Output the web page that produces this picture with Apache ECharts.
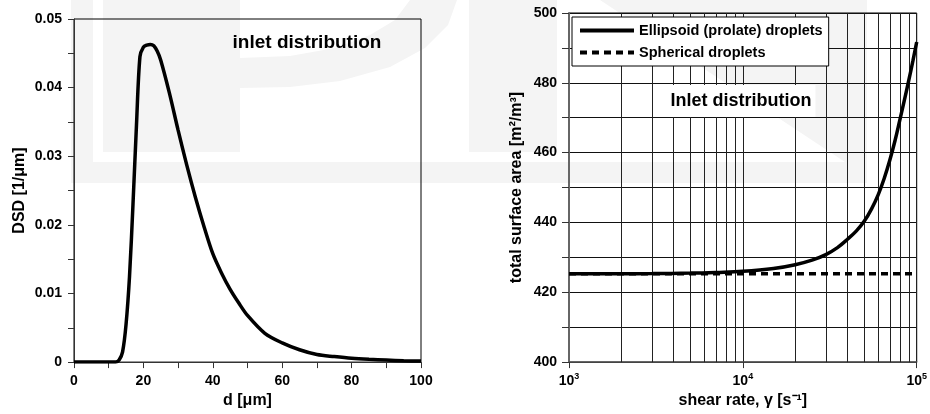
<!DOCTYPE html>
<html><head><meta charset="utf-8">
<script src="https://cdn.jsdelivr.net/npm/echarts@6/dist/echarts.min.js"></script>
<style>html,body{margin:0;padding:0;background:#fff}#c{width:930px;height:414px}</style>
</head><body><div id="c"></div>
<script>
// ---- Left panel: inlet droplet size distribution ----
const dsdDiameter = [0, 5, 10, 12, 13, 14, 15, 16, 17, 18, 19, 20, 21, 22, 23, 24, 25, 27.5, 30, 32.5, 35, 37.5, 40, 42.5, 45, 47.5, 50, 55, 60, 65, 70, 75, 80, 85, 90, 95, 100];
const dsdValue = [0, 0, 0, 0, 0.0003, 0.0015, 0.0055, 0.0125, 0.023, 0.0345, 0.0445, 0.0459, 0.0462, 0.0463, 0.0461, 0.0453, 0.0440, 0.0392, 0.0338, 0.0287, 0.0240, 0.0197, 0.0158, 0.0130, 0.0106, 0.0086, 0.0068, 0.0042, 0.0028, 0.0018, 0.0011, 0.0008, 0.00055, 0.0004, 0.0003, 0.0002, 0.00015];

// ---- Right panel: total surface area vs shear rate ----
const shearRate = [1000, 2000, 3000, 5000, 7000, 10000, 15000, 20000, 25000, 30000, 35000, 40000, 45000, 50000, 55000, 60000, 65000, 70000, 75000, 80000, 85000, 90000, 95000, 100000];
const ellipsoidArea = [425.3, 425.3, 425.35, 425.5, 425.7, 426.0, 426.8, 427.9, 429.2, 430.8, 432.8, 435.2, 437.6, 440.4, 443.9, 447.9, 452.6, 457.8, 463.4, 469.4, 475.1, 480.7, 486.2, 491.7];
const sphericalArea = [425.3, 425.3, 425.3, 425.3, 425.3, 425.3, 425.3, 425.3, 425.3, 425.3, 425.3, 425.3, 425.3, 425.3, 425.3, 425.3, 425.3, 425.3, 425.3, 425.3, 425.3, 425.3, 425.3, 425.3];
const logGridRates = [2000, 3000, 4000, 5000, 6000, 7000, 8000, 9000, 20000, 30000, 40000, 50000, 60000, 70000, 80000, 90000];
const seriesNames = ['Ellipsoid (prolate) droplets', 'Spherical droplets'];

const FONT = '"Liberation Sans", Arial, Helvetica, sans-serif';
const WM = '#f4f4f4';
const chart = echarts.init(document.getElementById('c'));

const labelStyle = { color: '#000', fontWeight: 'bold', fontSize: 14, fontFamily: FONT };
const nameStyle = { color: '#000', fontWeight: 'bold', fontSize: 16, fontFamily: FONT };

const option = {
  animation: false,
  textStyle: { fontFamily: FONT },
  graphic: [
    { type: 'rect', z: -10, silent: true, shape: { x: 71, y: 0, width: 22, height: 183 }, style: { fill: WM } },
    { type: 'rect', z: -10, silent: true, shape: { x: 103, y: 0, width: 137, height: 152 }, style: { fill: WM } },
    { type: 'polygon', z: -10, silent: true, shape: { points: [[240, 58], [290, 56], [335, 48], [370, 35], [395, 20], [410, 0], [457, 0], [448, 25], [425, 48], [390, 67], [340, 81], [290, 87], [240, 88]] }, style: { fill: WM } },
    { type: 'rect', z: -10, silent: true, shape: { x: 71, y: 162, width: 796, height: 21 }, style: { fill: WM } },
    { type: 'rect', z: -10, silent: true, shape: { x: 469, y: 0, width: 88, height: 152 }, style: { fill: WM } },
    { type: 'polygon', z: -10, silent: true, shape: { points: [[600, 0], [867, 0], [867, 162], [845, 162]] }, style: { fill: WM } },
    { type: 'text', z: 10, silent: true, style: { text: 'inlet distribution', x: 307, y: 43, align: 'center', verticalAlign: 'middle', font: 'bold 19px ' + FONT, fill: '#000' } },
    { type: 'text', z: 10, silent: true, style: { text: 'Inlet distribution', x: 741, y: 101, align: 'center', verticalAlign: 'middle', font: 'bold 18px ' + FONT, fill: '#000', backgroundColor: '#fff', padding: [7, 4, 7, 4] } }
  ],
  legend: {
    data: seriesNames,
    orient: 'vertical',
    left: 572, top: 17,
    width: 256,
    padding: [6, 6, 6, 6],
    itemGap: 7,
    itemWidth: 54, itemHeight: 14,
    backgroundColor: '#fff',
    borderColor: '#000', borderWidth: 1, borderRadius: 0,
    itemStyle: { color: 'transparent', borderColor: 'transparent', borderWidth: 0, opacity: 0 },
    lineStyle: { width: 4, color: '#000' },
    textStyle: { color: '#000', fontWeight: 'bold', fontSize: 14.5, fontFamily: FONT },
    z: 20
  },
  grid: [
    { left: 74, top: 19, width: 347, height: 345, show: true, borderColor: '#000', borderWidth: 1, backgroundColor: 'transparent' },
    { left: 569, top: 13, width: 349, height: 350, show: true, borderColor: '#000', borderWidth: 1, backgroundColor: 'transparent' }
  ],
  xAxis: [
    {
      gridIndex: 0, type: 'value', min: 0, max: 100, interval: 20,
      axisLine: { lineStyle: { color: '#333', width: 1 } },
      axisTick: { length: 6, lineStyle: { color: '#333' } },
      minorTick: { show: true, splitNumber: 2, length: 6, lineStyle: { color: '#333' } },
      splitLine: { show: false },
      axisLabel: Object.assign({ margin: 12 }, labelStyle),
      name: 'd [μm]', nameLocation: 'middle', nameGap: 30, nameTextStyle: nameStyle
    },
    {
      gridIndex: 1, type: 'log', logBase: 10, min: 1000, max: 100000,
      axisLine: { lineStyle: { color: '#555', width: 1.5 } },
      axisTick: { length: 6, lineStyle: { color: '#333' } },
      splitLine: { show: true, lineStyle: { color: '#222', width: 1 } },
      axisLabel: {
        margin: 10,
        formatter: function (v) { return '{b|10}{s|' + Math.round(Math.log10(v)) + '}'; },
        rich: {
          b: { fontSize: 14, fontWeight: 'bold', color: '#000', fontFamily: FONT, lineHeight: 18 },
          s: { fontSize: 9, fontWeight: 'bold', color: '#000', fontFamily: FONT, lineHeight: 18, verticalAlign: 'top', padding: [0, 0, 6, 0] }
        }
      },
      name: 'shear rate, γ [s⁻¹]', nameLocation: 'middle', nameGap: 28, nameTextStyle: nameStyle
    }
  ],
  yAxis: [
    {
      gridIndex: 0, type: 'value', min: 0, max: 0.05, interval: 0.01,
      axisLine: { show: true, lineStyle: { color: '#333', width: 1 } },
      axisTick: { show: true, length: 6, lineStyle: { color: '#333' } },
      minorTick: { show: true, splitNumber: 2, length: 6, lineStyle: { color: '#333' } },
      splitLine: { show: false },
      axisLabel: Object.assign({ margin: 12, formatter: function (v) { return v === 0 ? '0' : String(+v.toFixed(2)); } }, labelStyle),
      name: 'DSD [1/μm]', nameLocation: 'middle', nameGap: 46, nameTextStyle: nameStyle
    },
    {
      gridIndex: 1, type: 'value', min: 400, max: 500, interval: 10,
      axisLine: { show: true, lineStyle: { color: '#666', width: 2 } },
      axisTick: { show: true, length: 7, lineStyle: { color: '#333' } },
      splitLine: { show: true, lineStyle: { color: '#111', width: 1 } },
      axisLabel: Object.assign({ margin: 12, formatter: function (v) { return v % 20 === 0 ? String(v) : ''; } }, labelStyle),
      name: 'total surface area [m²/m³]', nameLocation: 'middle', nameGap: 44, nameTextStyle: nameStyle
    }
  ],
  series: [
    {
      type: 'line', xAxisIndex: 0, yAxisIndex: 0, symbol: 'none', smooth: 0.3,
      data: dsdDiameter.map(function (d, i) { return [d, dsdValue[i]]; }),
      lineStyle: { color: '#000', width: 3.5 }, z: 3
    },
    {
      type: 'line', xAxisIndex: 1, yAxisIndex: 1, symbol: 'none', data: [],
      markLine: {
        silent: true, z: 1, symbol: ['none', 'none'], label: { show: false },
        lineStyle: { color: '#222', width: 1, type: 'solid' },
        emphasis: { disabled: true },
        data: logGridRates.map(function (v) { return { xAxis: v }; })
      }
    },
    {
      name: seriesNames[1], type: 'line', xAxisIndex: 1, yAxisIndex: 1, symbol: 'none',
      data: shearRate.map(function (x, i) { return [x, sphericalArea[i]]; }),
      lineStyle: { color: '#000', width: 3.5, type: [7, 5] }, itemStyle: { color: '#000' }, z: 3
    },
    {
      name: seriesNames[0], type: 'line', xAxisIndex: 1, yAxisIndex: 1, symbol: 'none', smooth: 0.4,
      data: shearRate.map(function (x, i) { return [x, ellipsoidArea[i]]; }),
      lineStyle: { color: '#000', width: 3.5 }, itemStyle: { color: '#000' }, z: 4
    }
  ]
};
chart.setOption(option);
</script>
</body></html>
